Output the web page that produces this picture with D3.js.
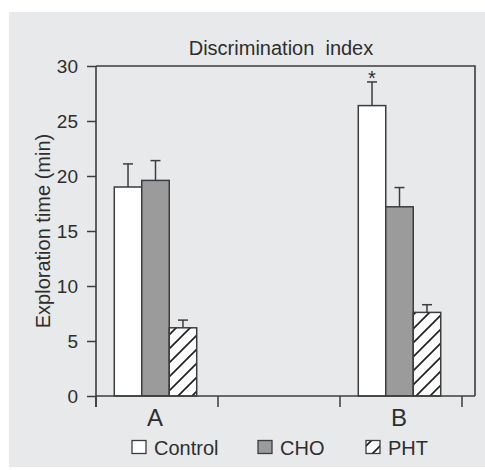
<!DOCTYPE html>
<html>
<head>
<meta charset="utf-8">
<script src="https://cdn.jsdelivr.net/npm/d3@7"></script>
<style>
  html, body { margin: 0; padding: 0; background: #ffffff; }
  svg { display: block; }
  text { font-family: "Liberation Sans", Arial, sans-serif; fill: #2e2e2e; }
</style>
</head>
<body>
<svg id="chart" width="485" height="470"></svg>
<script>
// ---- data ----
const categories = ["A", "", "B"];          // middle band is empty
const groups = ["A", "B"];
const series = ["Control", "CHO", "PHT"];
const controlValues = [19.0, 26.4];
const controlErrors = [2.1, 2.15];
const choValues = [19.6, 17.2];
const choErrors = [1.8, 1.75];
const phtValues = [6.2, 7.6];
const phtErrors = [0.7, 0.7];
const yTicks = [0, 5, 10, 15, 20, 25, 30];
const significant = [{ group: "B", series: "Control", mark: "*" }];
const titleText = "Discrimination  index";
const yLabel = "Exploration time (min)";

const valuesBySeries = { Control: controlValues, CHO: choValues, PHT: phtValues };
const errorsBySeries = { Control: controlErrors, CHO: choErrors, PHT: phtErrors };
const rows = [];
groups.forEach((g, gi) => series.forEach(s => rows.push({
  group: g, series: s, value: valuesBySeries[s][gi], err: errorsBySeries[s][gi]
})));

// ---- layout ----
const svg = d3.select("#chart");
const pLeft = 96, pRight = 475, pTop = 66, pBottom = 396;
const lineColor = "#3d3d3d";

svg.append("rect").attr("x", 9).attr("y", 12).attr("width", 476).attr("height", 455)
  .attr("fill", "#e8e9eb");

const defs = svg.append("defs");
const ps = 14;
const pat = defs.append("pattern").attr("id", "hatch")
  .attr("patternUnits", "userSpaceOnUse").attr("width", ps).attr("height", ps);
pat.append("rect").attr("width", ps).attr("height", ps).attr("fill", "#fff");
pat.append("path").attr("d", `M-3,3 L3,-3 M0,${ps} L${ps},0 M${ps - 3},${ps + 3} L${ps + 3},${ps - 3}`)
  .attr("stroke", "#222").attr("stroke-width", 1.7);

const fills = { Control: "#ffffff", CHO: "#9b9b9b", PHT: "url(#hatch)" };

const x = d3.scaleBand().domain(categories).range([pLeft, 462]).padding(0);
const xInner = d3.scaleBand().domain(series)
  .range([-1.5, x.bandwidth() - 1.5]).paddingInner(0).paddingOuter(0.72);
const y = d3.scaleLinear().domain([0, 30]).range([pBottom, pTop]);

// title
svg.append("text").attr("x", 281).attr("y", 55).attr("text-anchor", "middle")
  .style("font-size", "20px").style("white-space", "pre").text(titleText);

// frame (top and right)
svg.append("path")
  .attr("d", `M${pLeft},${pTop} H${pRight} V${pBottom}`)
  .attr("fill", "none").attr("stroke", lineColor).attr("stroke-width", 1.6);

// bars
const bars = svg.append("g");
bars.selectAll("rect").data(rows).join("rect")
  .attr("x", d => x(d.group) + xInner(d.series))
  .attr("y", d => y(d.value))
  .attr("width", xInner.bandwidth())
  .attr("height", d => y(0) - y(d.value))
  .attr("fill", d => fills[d.series])
  .attr("stroke", lineColor).attr("stroke-width", 1.5);

// error bars
const eb = svg.append("g").attr("stroke", lineColor).attr("stroke-width", 1.5);
rows.forEach(d => {
  const cx = x(d.group) + xInner(d.series) + xInner.bandwidth() / 2;
  eb.append("line").attr("x1", cx).attr("x2", cx)
    .attr("y1", y(d.value)).attr("y2", y(d.value + d.err));
  eb.append("line").attr("x1", cx - 5).attr("x2", cx + 5)
    .attr("y1", y(d.value + d.err)).attr("y2", y(d.value + d.err));
});

// significance marks
significant.forEach(s => {
  const r = rows.find(d => d.group === s.group && d.series === s.series);
  const cx = x(r.group) + xInner(r.series) + xInner.bandwidth() / 2;
  svg.append("text").attr("x", cx).attr("y", y(r.value + r.err) + 3)
    .attr("text-anchor", "middle").style("font-size", "20px").text(s.mark);
});

// y axis
const yAxis = svg.append("g").attr("transform", `translate(${pLeft},0)`)
  .call(d3.axisLeft(y).tickValues(yTicks).tickSize(9).tickPadding(9));
yAxis.select(".domain").attr("d", `M0,${pTop}V${pBottom + 11}`)
  .attr("stroke", lineColor).attr("stroke-width", 1.6);
yAxis.selectAll(".tick line").attr("stroke", lineColor).attr("stroke-width", 1.5);
yAxis.selectAll(".tick text").style("font-size", "19px")
  .style("font-family", "Liberation Sans, Arial, sans-serif").attr("fill", "#2e2e2e");

// x axis
const xAxis = svg.append("g").attr("transform", `translate(0,${pBottom})`)
  .call(d3.axisBottom(x).tickSize(0).tickPadding(13));
xAxis.select(".domain").attr("d", `M${pLeft},0H${pRight}`)
  .attr("stroke", lineColor).attr("stroke-width", 1.6);
xAxis.selectAll(".tick text").style("font-size", "24px")
  .style("font-family", "Liberation Sans, Arial, sans-serif").attr("fill", "#2e2e2e")
  .attr("dx", -2);
const boundaries = categories.map(c => x(c)).concat([x.range()[1]]);
xAxis.selectAll("line.bound").data(boundaries).join("line").attr("class", "bound")
  .attr("x1", d => d).attr("x2", d => d).attr("y1", 0).attr("y2", 11)
  .attr("stroke", lineColor).attr("stroke-width", 1.5);

// y label
svg.append("text")
  .attr("transform", `translate(50,${(pTop + pBottom) / 2}) rotate(-90)`)
  .attr("text-anchor", "middle").style("font-size", "20px").text(yLabel);

// legend
const legendX = { Control: 132, CHO: 258, PHT: 366 };
const lg = svg.append("g");
series.forEach(s => {
  lg.append("rect").attr("x", legendX[s]).attr("y", 440.5).attr("width", 14).attr("height", 13)
    .attr("fill", fills[s]).attr("stroke", lineColor).attr("stroke-width", 1.3);
  lg.append("text").attr("x", legendX[s] + 22).attr("y", 455)
    .style("font-size", "20px").text(s);
});
</script>
</body>
</html>
